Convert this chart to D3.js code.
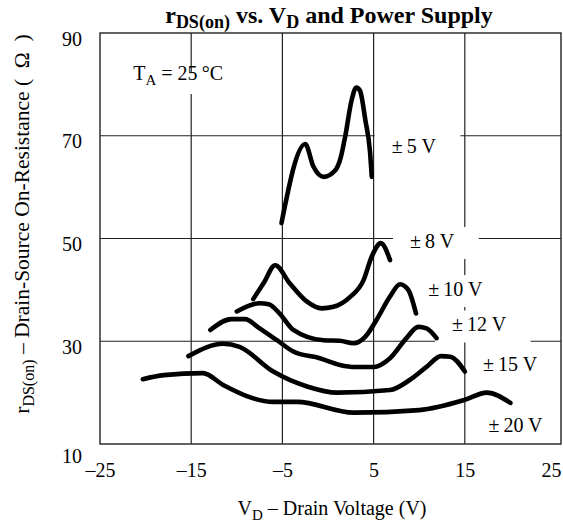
<!DOCTYPE html>
<html>
<head>
<meta charset="utf-8">
<script src="https://cdn.jsdelivr.net/npm/d3@7"></script>
<style>
  body { margin: 0; background: #fff; }
  svg text { font-family: "Liberation Serif", "Times New Roman", serif; fill: #000; white-space: pre; }
  .tick text { font-size: 20px; }
</style>
</head>
<body>
<svg id="chart" width="563" height="525"></svg>
<script>
// axis ticks
const xTicks = [-25, -15, -5, 5, 15, 25];
const yTicks = [10, 30, 50, 70, 90];
const xGrid = [-15, -5, 5, 15];
const yGrid = [30, 50, 70];

// rDS(on) curves, [V_D (V), r (ohm)]
const curve5V = [[-5.1, 53], [-2.5, 68.4], [-1.6, 64.0], [-0.5, 62.0], [0.8, 63.3], [1.4, 65.8], [1.9, 70],
  [2.6, 77], [3.1, 79.4], [3.5, 78.8], [4.1, 73], [4.6, 67], [4.8, 62]];
const curve8V = [[-8.2, 38.2], [-7, 41.5], [-5.8, 44.8], [-4.2, 41.3], [-2.3, 37.7], [-0.7, 36.4], [0.6, 36.7],
  [2.4, 38.6], [3.9, 41.9], [4.8, 46.5], [5.8, 49.1], [6.8, 45.8]];
const curve10V = [[-10, 35.8], [-7.5, 37.4], [-6.5, 37.2], [-5.3, 35.4], [-3.8, 32.2], [-0.5, 30.2], [1.3, 30.1],
  [2.8, 29.6], [4.1, 30.9], [5.3, 34.1], [6.8, 38.7], [7.9, 41.1], [8.8, 40.0], [9.65, 35.4]];
const curve12V = [[-12.9, 32.2], [-10.6, 34.3], [-9.1, 34.3], [-7.5, 32.5], [-5.6, 30.2], [-3.8, 28.0], [-0.9, 26.7],
  [1.3, 25.4], [3, 25.0], [5, 25.0], [6.8, 26.7], [8.6, 30.6], [9.9, 32.8], [10.8, 32.5], [11.9, 30.6]];
const curve15V = [[-15.3, 27.1], [-11.5, 29.5], [-9.7, 28.9], [-6.0, 24.1], [-2.3, 21.2], [1, 20.0], [6.8, 20.5],
  [9, 22.5], [10.8, 25.0], [12.4, 27.1], [13.4, 27.0], [15, 24.1]];
const curve20V = [[-20.3, 22.6], [-18, 23.4], [-13.7, 23.8], [-11.5, 21.5], [-6, 18.2], [-3.4, 18.2], [2.8, 16.1],
  [10, 16.6], [15, 18.6], [17.4, 20.0], [20, 18.0]];
const curves = [curve5V, curve8V, curve10V, curve12V, curve15V, curve20V];

const supplyLabels = ["\u00b1\u20095 V", "\u00b1\u20098 V", "\u00b1\u200910 V", "\u00b1\u200912 V", "\u00b1\u200915 V", "\u00b1\u200920 V"];
// where each label sits (data units: left edge, baseline)
const labelSpots = [[7.0, 66.6], [9.0, 48.15], [11.0, 38.8], [13.6, 31.9], [17.0, 24.2], [17.6, 12.3]];

const svg = d3.select("#chart");
const plotLeft = 100, plotTop = 33, plotBottom = 444, plotRight = 561;

const x = d3.scaleLinear().domain([-25, 25]).range([plotLeft, 556]);
const y = d3.scaleLinear().domain([10, 90]).range([plotBottom, plotTop]);

const gridG = svg.append("g");
const boxG = svg.append("g");
const curveG = svg.append("g");
const labelG = svg.append("g");
const frameG = svg.append("g");

// grid
gridG.selectAll(".vgrid")
  .data(xGrid)
  .enter()
  .append("line")
  .attr("x1", d => x(d)).attr("x2", d => x(d))
  .attr("y1", plotTop).attr("y2", plotBottom)
  .attr("stroke", "#222").attr("stroke-width", 1.2);
gridG.selectAll(".hgrid")
  .data(yGrid)
  .enter()
  .append("line")
  .attr("x1", plotLeft).attr("x2", plotRight)
  .attr("y1", d => y(d)).attr("y2", d => y(d))
  .attr("stroke", "#222").attr("stroke-width", 1.2);

// curves
const line = d3.line()
  .x(d => x(d[0]))
  .y(d => y(d[1]))
  .curve(d3.curveMonotoneX);

curveG.selectAll(".curve")
  .data(curves)
  .enter()
  .append("path")
  .attr("class", "curve")
  .attr("d", line)
  .attr("fill", "none")
  .attr("stroke", "#000")
  .attr("stroke-width", 4.6)
  .attr("stroke-linecap", "round")
  .attr("stroke-linejoin", "round");

// supply labels with white boxes that cut the grid
function addBox (textSel, pad) {
  const b = textSel.node().getBBox();
  boxG.append("rect")
    .attr("x", b.x - pad[0])
    .attr("y", b.y - pad[2])
    .attr("width", b.width + pad[0] + pad[1])
    .attr("height", b.height + pad[2] + pad[3])
    .attr("fill", "#fff");
}

supplyLabels.forEach((lab, i) => {
  const t = labelG.append("text")
    .attr("x", x(labelSpots[i][0]))
    .attr("y", y(labelSpots[i][1]))
    .style("font-size", "20px")
    .text(lab);
  if (i < 4) addBox(t, [17, 24, 3, 7]);
});

// TA = 25 °C
const ta = labelG.append("text")
  .attr("x", x(-21.35))
  .attr("y", y(80.85))
  .style("font-size", "20px");
ta.append("tspan").text("T");
ta.append("tspan").attr("dy", 5).style("font-size", "15px").text("A");
ta.append("tspan").attr("dy", -5).text(" = 25\u2009\u00b0C");
addBox(ta, [2, 2, -10, 6]);

// frame
frameG.append("rect")
  .attr("x", plotLeft).attr("y", plotTop)
  .attr("width", plotRight - plotLeft).attr("height", plotBottom - plotTop)
  .attr("fill", "none")
  .attr("stroke", "#222")
  .attr("stroke-width", 1.4);

// axes (labels only)
const fmt = d => d < 0 ? "\u2013" + (-d) : String(d);
svg.append("g")
  .attr("transform", `translate(0,${plotBottom})`)
  .call(d3.axisBottom(x).tickValues(xTicks).tickSize(0).tickFormat(fmt))
  .call(g => g.select(".domain").remove())
  .selectAll("text")
  .attr("y", 33)
  .attr("dy", null)
  .filter(d => d === 25)
  .attr("text-anchor", "end")
  .attr("x", plotRight - x(25));

svg.append("g")
  .attr("transform", `translate(${plotLeft},0)`)
  .call(d3.axisLeft(y).tickValues(yTicks).tickSize(0))
  .call(g => g.select(".domain").remove())
  .selectAll("text")
  .attr("x", -18)
  .attr("dy", d => d === 10 ? 18 : 12);

// title
const title = svg.append("text")
  .attr("x", 329).attr("y", 23)
  .attr("text-anchor", "middle")
  .style("font-size", "24px")
  .style("font-weight", "bold");
title.append("tspan").text("r");
title.append("tspan").attr("dy", 5).style("font-size", "18px").text("DS(on)");
title.append("tspan").attr("dy", -5).text(" vs. V");
title.append("tspan").attr("dy", 5).style("font-size", "18px").text("D");
title.append("tspan").attr("dy", -5).text(" and Power Supply");

// x axis title
const xt = svg.append("text")
  .attr("x", 332).attr("y", 515)
  .attr("text-anchor", "middle")
  .style("font-size", "20px");
xt.append("tspan").text("V");
xt.append("tspan").attr("dy", 5).style("font-size", "15px").text("D");
xt.append("tspan").attr("dy", -5).text(" \u2013 Drain Voltage (V)");

// y axis title
const yt = svg.append("text")
  .attr("transform", "translate(29,224) rotate(-90)")
  .attr("text-anchor", "middle")
  .style("font-size", "21.5px");
yt.append("tspan").text("r");
yt.append("tspan").attr("dy", 5).style("font-size", "16px").text("DS(on)");
yt.append("tspan").attr("dy", -5).text(" \u2013 Drain-Source On-Resistance (  \u03a9  )");
</script>
</body>
</html>
